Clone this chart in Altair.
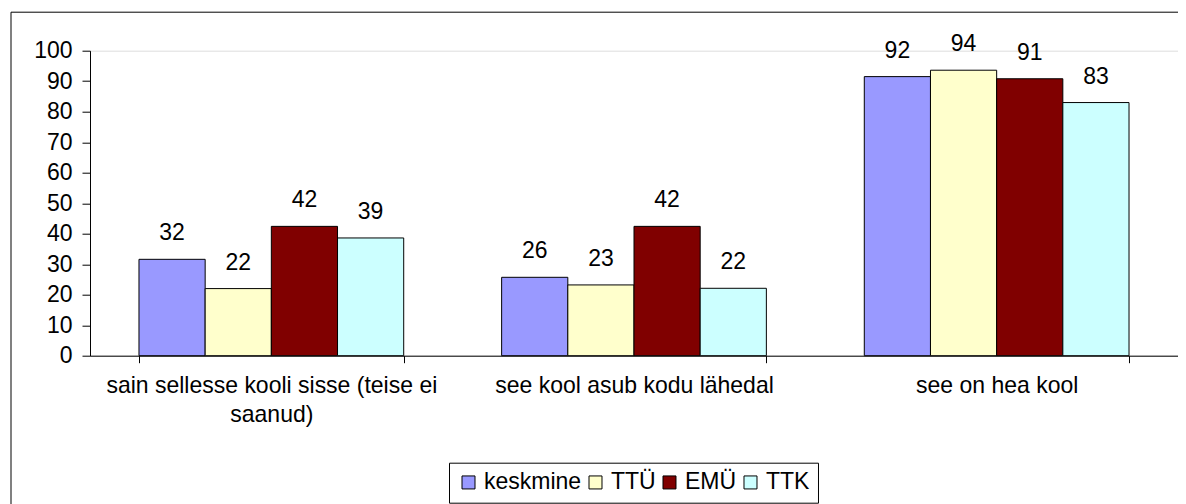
import altair as alt
import pandas as pd

categories = [
    "sain sellesse kooli sisse (teise ei\nsaanud)",
    "see kool asub kodu lähedal",
    "see on hea kool",
]
series = ["keskmine", "TTÜ", "EMÜ", "TTK"]
colors = ["#9999FF", "#FFFFCC", "#800000", "#CCFFFF"]
values = {
    "keskmine": [31.6, 25.7, 91.5],
    "TTÜ": [22.0, 23.2, 93.6],
    "EMÜ": [42.4, 42.4, 90.8],
    "TTK": [38.6, 22.1, 83.0],
}
y_ticks = [0, 10, 20, 30, 40, 50, 60, 70, 80, 90, 100]

rows = []
for s in series:
    for c, v in zip(categories, values[s]):
        rows.append({"kat": c, "seeria": s, "väärtus": v})
df = pd.DataFrame(rows)

FONT = "Liberation Sans"
W, H = 1088, 305

x_enc = alt.X(
    "kat:N",
    sort=categories,
    title=None,
    scale=alt.Scale(paddingInner=0.27, paddingOuter=0.135),
    axis=alt.Axis(
        labelAngle=0,
        labelExpr="isValid(datum.value) ? split(datum.value, '\\n') : ''",
        labelFontSize=23,
        labelFont=FONT,
        labelColor="black",
        labelPadding=12,
        labelLineHeight=29,
        labelLimit=500,
        labelOverlap=False,
        tickBand="extent",
        tickSize=7,
        tickColor="black",
        domainColor="black",
        grid=False,
    ),
)
y_enc = alt.Y(
    "väärtus:Q",
    title=None,
    scale=alt.Scale(domain=[0, 100], nice=False),
    axis=alt.Axis(
        values=y_ticks,
        tickCount=11,
        labelOverlap=False,
        labelFontSize=23,
        labelFont=FONT,
        labelColor="black",
        labelPadding=10,
        tickSize=8,
        tickColor="black",
        domainColor="black",
        grid=False,
    ),
)
xoff = alt.XOffset("seeria:N", sort=series, scale=alt.Scale(paddingInner=0, paddingOuter=0))

bars = alt.Chart(df).mark_bar(stroke="black", strokeWidth=1).encode(
    x=x_enc,
    xOffset=xoff,
    y=y_enc,
    color=alt.Color(
        "seeria:N",
        sort=series,
        scale=alt.Scale(domain=series, range=colors),
        legend=alt.Legend(
            title=None,
            orient="none",
            direction="horizontal",
            legendX=359,
            legendY=412,
            symbolType="square",
            symbolSize=169,
            symbolStrokeColor="black",
            symbolStrokeWidth=1,
            symbolOpacity=1,
            labelFontSize=23,
            labelFont=FONT,
            labelColor="black",
            labelOffset=4,
            columnPadding=2,
            padding=8,
            strokeColor="black",
            fillColor="white",
        ),
    ),
)

labels = alt.Chart(df).mark_text(
    fontSize=23, font=FONT, color="black", baseline="alphabetic", dy=-19
).encode(
    x=x_enc,
    xOffset=xoff,
    y=y_enc,
    text=alt.Text("väärtus:Q", format=".0f"),
)

frame = alt.Chart(pd.DataFrame({"a": [0]})).mark_rect(
    fill=None, stroke="black", strokeWidth=1
).encode(
    x=alt.value(-79),
    x2=alt.value(W + 40),
    y=alt.value(-38.5),
    y2=alt.value(H + 200),
)

chart = alt.layer(frame, bars, labels).properties(
    width=W,
    height=H,
    autosize=alt.AutoSizeParams(type="none"),
    padding={"left": 82, "top": 42.7, "right": 0, "bottom": 148},
).configure_view(
    stroke="#808080", strokeWidth=1
).configure(background="white")

chart.save("out.html", embed_options={"renderer": "svg", "actions": False})
